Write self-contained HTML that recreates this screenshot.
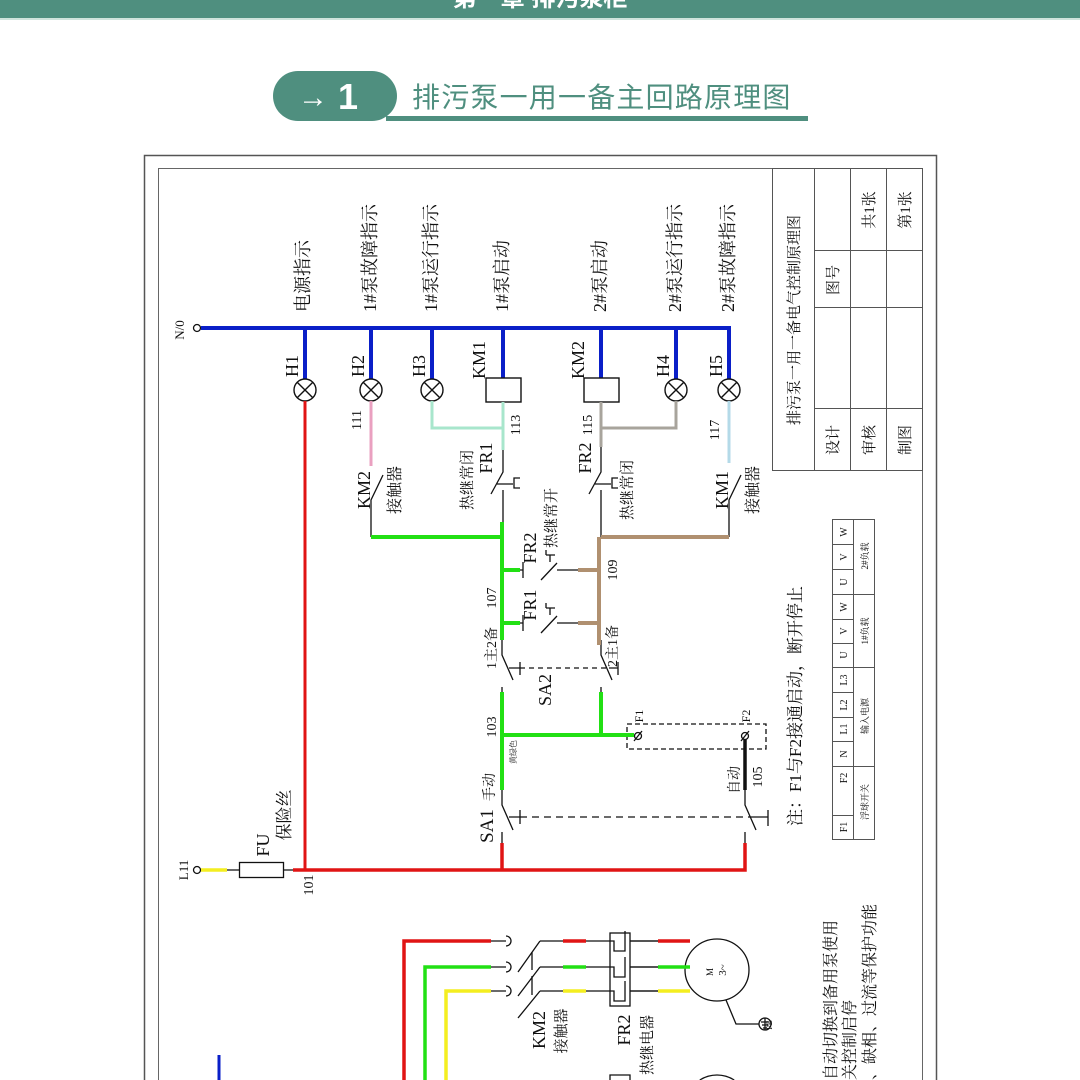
<!DOCTYPE html>
<html><head><meta charset="utf-8"><style>
html,body{margin:0;padding:0;background:#fff;width:1080px;height:1080px;overflow:hidden;}
svg{display:block;overflow:hidden;}
.t{font-family:"Liberation Serif","Noto Serif CJK SC",serif;fill:#111;}
</style></head><body>
<svg width="1080" height="1080" viewBox="0 0 1080 1080" xmlns="http://www.w3.org/2000/svg">
<!-- header -->
<rect x="0" y="0" width="1080" height="18" fill="#4f8f7f"/>
<rect x="0" y="18" width="1080" height="2" fill="#cfe3dc"/>
<text x="540" y="6" text-anchor="middle" font-family="Liberation Sans,Noto Sans CJK SC,sans-serif" font-size="24" font-weight="bold" fill="#fff">第一章 排污泵柜</text>
<!-- title pill -->
<rect x="386" y="116" width="422" height="5" fill="#4f8f7f"/>
<rect x="273" y="71" width="124" height="50" rx="25" fill="#4f8f7f"/>
<text x="298" y="107" font-family="Liberation Sans,sans-serif" font-size="30" font-weight="bold" fill="#fff">→</text>
<text x="338" y="109" font-family="Liberation Sans,sans-serif" font-size="36" font-weight="bold" fill="#fff">1</text>
<text x="412" y="107" font-family="Liberation Sans,Noto Sans CJK SC,sans-serif" font-size="28" letter-spacing="1.2" fill="#4f8f7f">排污泵一用一备主回路原理图</text>
<!-- frame -->
<path d="M144.5,1080V155.5H936.5V1080" fill="none" stroke="#555" stroke-width="1.5"/>
<path d="M158.5,1080V168.5H922.5V1080" fill="none" stroke="#666" stroke-width="1"/>
<!-- title block -->
<g stroke="#555" stroke-width="1" fill="none">
<rect x="772.5" y="168.5" width="150" height="302"/>
<line x1="814.5" y1="168" x2="814.5" y2="471"/>
<line x1="850.5" y1="168" x2="850.5" y2="471"/>
<line x1="886.5" y1="168" x2="886.5" y2="471"/>
<line x1="814" y1="250.5" x2="923" y2="250.5"/>
<line x1="814" y1="307.5" x2="923" y2="307.5"/>
<line x1="814" y1="408.5" x2="923" y2="408.5"/>
</g>
<g class="t" font-size="15">
<text transform="translate(799,320) rotate(-90)" text-anchor="middle">排污泵一用一备电气控制原理图</text>
<text transform="translate(838,280) rotate(-90)" text-anchor="middle">图号</text>
<text transform="translate(874,210) rotate(-90)" text-anchor="middle">共1张</text>
<text transform="translate(910,210) rotate(-90)" text-anchor="middle">第1张</text>
<text transform="translate(838,440) rotate(-90)" text-anchor="middle">设计</text>
<text transform="translate(874,440) rotate(-90)" text-anchor="middle">审核</text>
<text transform="translate(910,440) rotate(-90)" text-anchor="middle">制图</text>
</g>
<!-- terminal table -->
<g stroke="#555" stroke-width="1" fill="none">
<rect x="832.5" y="519.5" width="42" height="320"/>
<line x1="853.5" y1="519" x2="853.5" y2="840"/>
<path d="M832,544.5H853M832,569.5H853M832,594.5H875M832,619.5H853M832,643.5H853M832,667.5H875M832,692.5H853M832,717.5H853M832,741.5H853M832,766.5H875M832,815.5H853"/>
</g>
<g class="t" font-size="10" text-anchor="middle">
<text transform="translate(847,532) rotate(-90)">W</text>
<text transform="translate(847,557) rotate(-90)">V</text>
<text transform="translate(847,582) rotate(-90)">U</text>
<text transform="translate(847,607) rotate(-90)">W</text>
<text transform="translate(847,631) rotate(-90)">V</text>
<text transform="translate(847,655) rotate(-90)">U</text>
<text transform="translate(847,680) rotate(-90)">L3</text>
<text transform="translate(847,705) rotate(-90)">L2</text>
<text transform="translate(847,729) rotate(-90)">L1</text>
<text transform="translate(847,754) rotate(-90)">N</text>
<text transform="translate(847,778) rotate(-90)">F2</text>
<text transform="translate(847,827) rotate(-90)">F1</text>
<text transform="translate(868,556) rotate(-90)" font-size="9">2#负载</text>
<text transform="translate(868,631) rotate(-90)" font-size="9">1#负载</text>
<text transform="translate(868,716) rotate(-90)" font-size="9">输入电源</text>
<text transform="translate(868,802) rotate(-90)" font-size="9">浮球开关</text>
</g>
<text class="t" transform="translate(801,706) rotate(-90)" text-anchor="middle" font-size="17">注：F1与F2接通启动，断开停止</text>

<!-- N/0 bus -->
<text class="t" transform="translate(184,330) rotate(-90)" text-anchor="middle" font-size="13">N/0</text>
<circle cx="197" cy="328" r="3.5" fill="#fff" stroke="#111" stroke-width="1.3"/>
<g stroke="#0a1fc8" stroke-width="4" fill="none">
<line x1="201" y1="328" x2="731" y2="328"/>
<path d="M305,328V379M371,328V379M432,328V379M503,328V378M601,328V378M676,328V379M729,328V379"/>
</g>
<!-- top labels -->
<g class="t" font-size="18">
<text transform="translate(309,312) rotate(-90)">电源指示</text>
<text transform="translate(376,312) rotate(-90)">1#泵故障指示</text>
<text transform="translate(437,312) rotate(-90)">1#泵运行指示</text>
<text transform="translate(508,312) rotate(-90)">1#泵启动</text>
<text transform="translate(606,312) rotate(-90)">2#泵启动</text>
<text transform="translate(681,312) rotate(-90)">2#泵运行指示</text>
<text transform="translate(734,312) rotate(-90)">2#泵故障指示</text>
<text transform="translate(298,366) rotate(-90)" text-anchor="middle">H1</text>
<text transform="translate(364,366) rotate(-90)" text-anchor="middle">H2</text>
<text transform="translate(425,366) rotate(-90)" text-anchor="middle">H3</text>
<text transform="translate(485,360) rotate(-90)" text-anchor="middle">KM1</text>
<text transform="translate(584,360) rotate(-90)" text-anchor="middle">KM2</text>
<text transform="translate(669,366) rotate(-90)" text-anchor="middle">H4</text>
<text transform="translate(722,366) rotate(-90)" text-anchor="middle">H5</text>
</g>
<!-- lamps -->
<g stroke="#111" stroke-width="1.4" fill="#fff">
<g transform="translate(305,390)"><circle r="11"/><path d="M-7.8,-7.8L7.8,7.8M-7.8,7.8L7.8,-7.8"/></g>
<g transform="translate(371,390)"><circle r="11"/><path d="M-7.8,-7.8L7.8,7.8M-7.8,7.8L7.8,-7.8"/></g>
<g transform="translate(432,390)"><circle r="11"/><path d="M-7.8,-7.8L7.8,7.8M-7.8,7.8L7.8,-7.8"/></g>
<g transform="translate(676,390)"><circle r="11"/><path d="M-7.8,-7.8L7.8,7.8M-7.8,7.8L7.8,-7.8"/></g>
<g transform="translate(729,390)"><circle r="11"/><path d="M-7.8,-7.8L7.8,7.8M-7.8,7.8L7.8,-7.8"/></g>
<rect x="486" y="378" width="35" height="24"/>
<rect x="584" y="378" width="35" height="24"/>
</g>
<!-- colored wires under lamps -->
<g fill="none" stroke-width="3">
<line x1="305" y1="401" x2="305" y2="870" stroke="#e01414"/>
<line x1="371" y1="401" x2="371" y2="466" stroke="#eaa0c0"/>
<path d="M432,401V428H503M503,402V450" stroke="#a8e6cc"/>
<path d="M676,401V428H601M601,402V447" stroke="#a8a49c"/>
<line x1="729" y1="401" x2="729" y2="463" stroke="#b4dae8"/>
</g>
<g class="t" font-size="14">
<text transform="translate(361,420) rotate(-90)" text-anchor="middle">111</text>
<text transform="translate(520,425) rotate(-90)" text-anchor="middle">113</text>
<text transform="translate(592,425) rotate(-90)" text-anchor="middle">115</text>
<text transform="translate(719,430) rotate(-90)" text-anchor="middle">117</text>
</g>
<!-- contacts row -->
<g stroke="#111" stroke-width="1.3" fill="none">
<path d="M383,475L371,500V537"/>
<path d="M741,475L729,500V537"/>
<path d="M503,450V472L491,494M497,484H513M520,478H514V488H520M503,490V522"/>
<path d="M601,447V472L589,494M595,484H611M618,478H612V488H618M601,490V537"/>
<path d="M520,570H523M523,562V578M541,580L557,563M557,570H578M550,555V562M546,555H555M546,555V550"/>
<path d="M520,623H523M523,615V631M541,633L557,616M557,623H578M550,608V615M546,608H555M546,608V603"/>
<path d="M502,640V655L513,680M601,640V655L612,680M502,687V692M601,687V692"/>
<path d="M509,668H520M520,662V675M609,668H618M618,662V675"/>
<line x1="520" y1="668" x2="609" y2="668" stroke-dasharray="5,4"/>
<path d="M502,790V805L513,830M745,790V805L756,830M502,832V843M745,832V843"/>
<path d="M509,817H520M520,810V824M752,817H768M768,810V826"/>
<line x1="520" y1="817" x2="752" y2="817" stroke-dasharray="7,5"/>
<rect x="627" y="724" width="139" height="25" stroke-dasharray="5,3"/>
</g>
<line x1="745" y1="737" x2="745" y2="790" stroke="#111" stroke-width="3.5"/>
<g stroke="#111" stroke-width="1.3" fill="#fff">
<circle cx="638" cy="736" r="3.5"/><line x1="634" y1="741" x2="642" y2="731"/>
<circle cx="745" cy="736" r="3.5"/><line x1="741" y1="741" x2="749" y2="731"/>
</g>
<!-- green network -->
<g fill="none" stroke="#22e014" stroke-width="4">
<path d="M371,537H502M502,522V640M502,570H520M502,623H520"/>
<path d="M502,692V790M502,735H634M601,692V735"/>
</g>
<g fill="none" stroke="#b09070" stroke-width="4">
<path d="M601,537H729M599,537V645M578,570H599M578,623H599"/>
</g>
<!-- red bottom -->
<g fill="none" stroke="#e01414" stroke-width="3.5">
<path d="M293,870H745V843M502,870V843"/>
</g>
<!-- L11 & fuse -->
<circle cx="197" cy="870" r="3.5" fill="#fff" stroke="#111" stroke-width="1.3"/>
<line x1="201" y1="870" x2="227" y2="870" stroke="#f4ee20" stroke-width="3.5"/>
<path d="M227,870H239M283,870H293" stroke="#111" stroke-width="1.3"/>
<rect x="239.5" y="862.5" width="44" height="15" fill="#fff" stroke="#111" stroke-width="1.3"/>
<g class="t">
<text transform="translate(188,870) rotate(-90)" text-anchor="middle" font-size="13">L11</text>
<text transform="translate(269,845) rotate(-90)" text-anchor="middle" font-size="18">FU</text>
<text transform="translate(290,815) rotate(-90)" text-anchor="middle" font-size="17">保险丝</text>
<text transform="translate(313,885) rotate(-90)" text-anchor="middle" font-size="14">101</text>
<text transform="translate(370,490) rotate(-90)" text-anchor="middle" font-size="18">KM2</text>
<text transform="translate(400,490) rotate(-90)" text-anchor="middle" font-size="16">接触器</text>
<text transform="translate(728,490) rotate(-90)" text-anchor="middle" font-size="18">KM1</text>
<text transform="translate(758,490) rotate(-90)" text-anchor="middle" font-size="16">接触器</text>
<text transform="translate(492,458) rotate(-90)" text-anchor="middle" font-size="18">FR1</text>
<text transform="translate(472,480) rotate(-90)" text-anchor="middle" font-size="15">热继常闭</text>
<text transform="translate(591,458) rotate(-90)" text-anchor="middle" font-size="18">FR2</text>
<text transform="translate(632,490) rotate(-90)" text-anchor="middle" font-size="15">热继常闭</text>
<text transform="translate(536,548) rotate(-90)" text-anchor="middle" font-size="18">FR2</text>
<text transform="translate(556,518) rotate(-90)" text-anchor="middle" font-size="15">热继常开</text>
<text transform="translate(536,605) rotate(-90)" text-anchor="middle" font-size="18">FR1</text>
<text transform="translate(496,598) rotate(-90)" text-anchor="middle" font-size="14">107</text>
<text transform="translate(617,570) rotate(-90)" text-anchor="middle" font-size="14">109</text>
<text transform="translate(496,648) rotate(-90)" text-anchor="middle" font-size="14">1主2备</text>
<text transform="translate(617,646) rotate(-90)" text-anchor="middle" font-size="14">2主1备</text>
<text transform="translate(551,690) rotate(-90)" text-anchor="middle" font-size="18">SA2</text>
<text transform="translate(496,727) rotate(-90)" text-anchor="middle" font-size="14">103</text>
<text transform="translate(516,752) rotate(-90)" text-anchor="middle" font-size="8">黄绿色</text>
<text transform="translate(643,716) rotate(-90)" text-anchor="middle" font-size="12">F1</text>
<text transform="translate(750,716) rotate(-90)" text-anchor="middle" font-size="12">F2</text>
<text transform="translate(494,787) rotate(-90)" text-anchor="middle" font-size="14">手动</text>
<text transform="translate(739,780) rotate(-90)" text-anchor="middle" font-size="14">自动</text>
<text transform="translate(762,777) rotate(-90)" text-anchor="middle" font-size="14">105</text>
<text transform="translate(493,826) rotate(-90)" text-anchor="middle" font-size="19">SA1</text>
</g>

<!-- main circuit bottom -->
<g fill="none" stroke-width="3.5">
<path d="M404,1080V941H491" stroke="#e01414"/>
<path d="M425,1080V967H491" stroke="#22e014"/>
<path d="M446,1080V991H491" stroke="#f4ee20"/>
</g>
<g stroke="#111" stroke-width="1.3" fill="none">
<path d="M491,941H506M491,967H506M491,991H506"/>
<path d="M506,936A5,5 0 0 1 506,946M506,962A5,5 0 0 1 506,972M506,986A5,5 0 0 1 506,996"/>
<path d="M540,941H685M540,967H685M540,991H685"/>
<path d="M540,941L518,972M540,967L518,996M540,991L518,1018"/>
<path d="M532,952V970M532,976V995"/>
<rect x="610" y="933" width="20" height="73" fill="#fff"/>
<path d="M610,941H614V951H625V931M610,967H614V977H625V957M610,991H614V1001H625V981"/>
<path d="M630,941H685M630,967H685M630,991H685"/>
<ellipse cx="717" cy="970" rx="32" ry="31" fill="#fff"/>
<path d="M726,1000L736,1024H759"/>
<circle cx="765" cy="1024" r="6"/>
<path d="M765,1018V1030M761,1022H769M762,1025H768M763,1028H767"/>
<path d="M610,1080V1075H630V1080"/>
<path d="M699.8,1080A32,32 0 0 1 734.2,1080"/>
</g>
<g stroke-width="3.5">
<path d="M563,941H586M658,941H690" stroke="#e01414"/>
<path d="M563,967H586M658,967H690" stroke="#22e014"/>
<path d="M563,991H586M658,991H690" stroke="#f4ee20"/>
</g>
<line x1="219" y1="1055" x2="219" y2="1080" stroke="#0a1fc8" stroke-width="3"/>
<g class="t">
<text transform="translate(713,972) rotate(-90)" text-anchor="middle" font-size="9">M</text>
<text transform="translate(726,970) rotate(-90)" text-anchor="middle" font-size="11">3~</text>
<text transform="translate(772,1025) rotate(-90)" text-anchor="middle" font-size="8">PE</text>
<text transform="translate(545,1030) rotate(-90)" text-anchor="middle" font-size="18">KM2</text>
<text transform="translate(566,1031) rotate(-90)" text-anchor="middle" font-size="15">接触器</text>
<text transform="translate(630,1030) rotate(-90)" text-anchor="middle" font-size="18">FR2</text>
<text transform="translate(652,1045) rotate(-90)" text-anchor="middle" font-size="15">热继电器</text>
<text transform="translate(836,1080) rotate(-90)" font-size="16">自动切换到备用泵使用</text>
<text transform="translate(855,1080) rotate(-90)" font-size="16">关控制启停</text>
<text transform="translate(875,1080) rotate(-90)" font-size="16">、缺相、过流等保护功能</text>
</g>
</svg>
</body></html>
